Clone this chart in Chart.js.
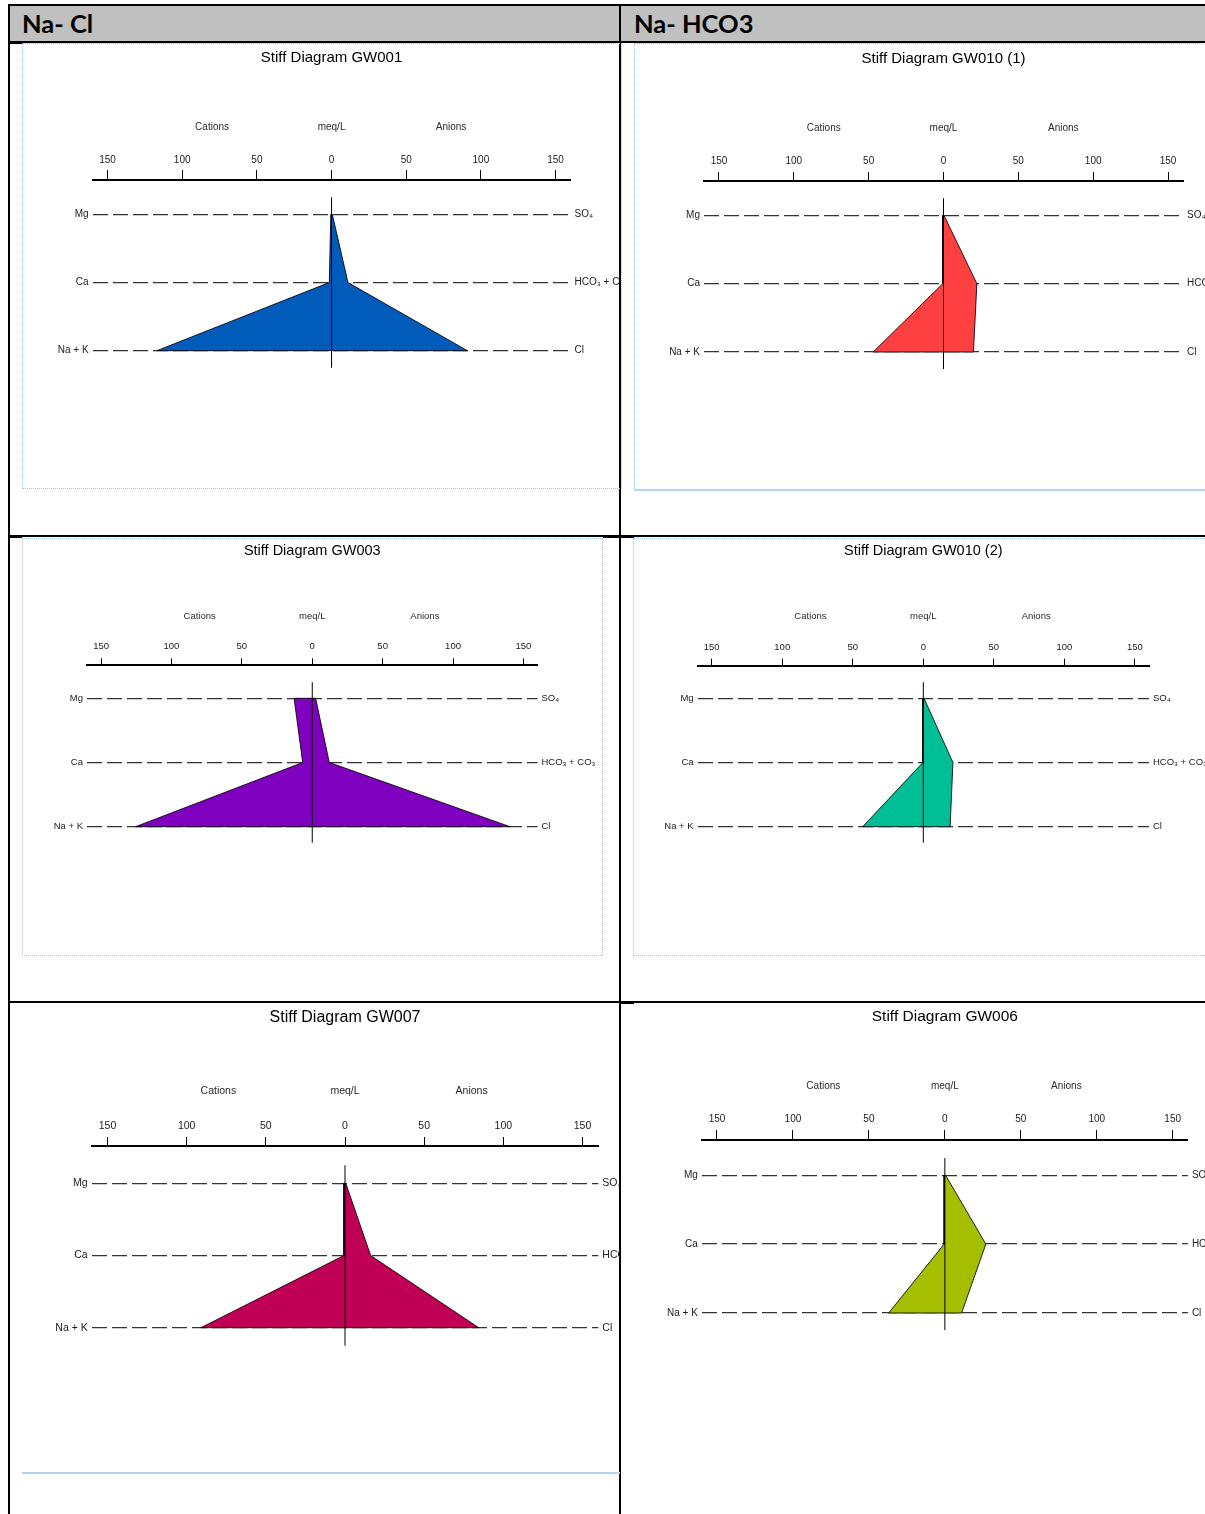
<!DOCTYPE html>
<html>
<head>
<meta charset="utf-8">
<title>Stiff Diagrams</title>
<script src="https://cdn.jsdelivr.net/npm/chart.js@4.4.0/dist/chart.umd.min.js"></script>
<style>
  html, body { margin: 0; padding: 0; background: #fff; }
  body { width: 1205px; height: 1514px; position: relative; overflow: hidden; font-family: "Liberation Sans", Arial, sans-serif; }
  .blk { position: absolute; background: #000; }
  .hdr { position: absolute; left: 10px; top: 6px; width: 1195px; height: 35px; background: #c0c0c0; }
  .hdr-text { position: absolute; top: 6px; height: 35px; line-height: 35px; font-family: Lato, "Open Sans", sans-serif; font-weight: bold; font-size: 25.5px; color: #000; white-space: nowrap; }
  .frame { position: absolute; box-sizing: border-box; }
  .panel { position: absolute; }
</style>
</head>
<body>
<div class="hdr"></div>
<div id="hdrLeft" class="hdr-text" style="left:22px;"></div>
<div id="hdrRight" class="hdr-text" style="left:634px;"></div>

<!-- table rules -->
<div class="blk" style="left:8px;top:4px;width:1197px;height:2px;"></div>
<div class="blk" style="left:8px;top:41px;width:1197px;height:2px;"></div>
<div class="blk" style="left:8px;top:4px;width:2px;height:1510px;"></div>
<div class="blk" style="left:619px;top:4px;width:2px;height:1510px;"></div>
<div class="blk" style="left:8px;top:535px;width:1197px;height:2px;"></div>
<div class="blk" style="left:8px;top:1001px;width:1197px;height:2px;"></div>
<div class="blk" style="left:10px;top:43px;width:12px;height:1px;"></div>
<div class="blk" style="left:10px;top:537px;width:12px;height:1px;"></div>
<div class="blk" style="left:603px;top:537px;width:31px;height:1px;"></div>
<div class="blk" style="left:621px;top:1003px;width:13px;height:1px;"></div>

<!-- chart frames -->
<div class="frame" style="left:22px;top:43px;width:600px;height:446px;border:1px dotted #9fc6ea;"></div>
<div class="frame" style="left:634px;top:43px;width:600px;height:448px;border:1px dotted #9fc6ea;border-bottom:2px solid #b3d3f1;"></div>
<div class="frame" style="left:22px;top:538px;width:581px;height:418px;border:1px dotted #9fc6ea;"></div>
<div class="frame" style="left:633px;top:538px;width:600px;height:418px;border:1px dotted #9fc6ea;"></div>
<div class="frame" style="left:22px;top:1472px;width:598px;height:2px;background:#b3d3f1;"></div>

<script>
// Group headers and diagram titles
const groupHeaders = ['Na- Cl', 'Na- HCO3'];
const diagramTitles = [
  'Stiff Diagram GW001',
  'Stiff Diagram GW010 (1)',
  'Stiff Diagram GW003',
  'Stiff Diagram GW010 (2)',
  'Stiff Diagram GW007',
  'Stiff Diagram GW006'
];

// Ion rows (bottom to top) and axis labelling
const cationLabels = ['Na + K', 'Ca', 'Mg'];
const anionLabels = ['Cl', 'HCO\u2083 + CO\u2083', 'SO\u2084'];
const axisTicks = [-150, -100, -50, 0, 50, 100, 150];
const sideLabels = ['Cations', 'meq/L', 'Anions'];

// Concentrations in meq/L, one entry per diagram (same order as diagramTitles)
const naK  = [117, 47, 125.5, 43, 91, 37];
const ca   = [1.5, 0.5, 6.8, 0.3, 0.7, 0.5];
const mg   = [0.5, 0.5, 12.9, 0.3, 0.7, 0.5];
const cl   = [91, 20, 140.5, 19, 84.5, 11];
const hco3 = [11, 22.3, 12.1, 21, 16.2, 27];
const so4  = [0.5, 0.3, 2.4, 0.5, 0.5, 0.5];

// Styling
const fillColors = ['#005BBB', '#FF4040', '#8000BF', '#00BF96', '#BF0054', '#A5BF00'];

// Page placement of each diagram: canvas box [left, top, right, bottom],
// axis line [left, right, y], row lines for Mg / Na+K, title & caption rows, type sizes
const panels = [
  { box: [22, 43, 620, 488],    axis: [92.6, 570.5, 180],  mgY: 214.3,  naY: 350.7,  titleY: 58,   capY: 127,  titleSize: 15,   font: 10,  tickLen: 10, tickPad: 4 },
  { box: [634, 43, 1205, 490],  axis: [704, 1183, 181],    mgY: 215.3,  naY: 352,    titleY: 59,   capY: 128,  titleSize: 15,   font: 10,  tickLen: 9,  tickPad: 5 },
  { box: [22, 538, 602, 955],   axis: [87, 537.5, 665.3],  mgY: 698.3,  naY: 826.7,  titleY: 551,  capY: 616,  titleSize: 14.5, font: 9.5, tickLen: 7,  tickPad: 6 },
  { box: [633, 538, 1205, 955], axis: [697.6, 1149, 665.7], mgY: 698.3, naY: 826.7,  titleY: 551,  capY: 616,  titleSize: 14.5, font: 9.5, tickLen: 7,  tickPad: 6 },
  { box: [22, 1004, 620, 1470], axis: [91.7, 598.3, 1146], mgY: 1183.3, naY: 1327.7, titleY: 1018, capY: 1091, titleSize: 16,   font: 10.5, tickLen: 9, tickPad: 5 },
  { box: [634, 1004, 1205, 1470], axis: [701.8, 1187.9, 1140], mgY: 1175.3, naY: 1313, titleY: 1017, capY: 1086, titleSize: 15.5, font: 10, tickLen: 10, tickPad: 5, soft: true }
];
const sideLabelAnchors = [-80, 0, 80];

document.getElementById('hdrLeft').textContent = groupHeaders[0];
document.getElementById('hdrRight').textContent = groupHeaders[1];

const FONT = '"Liberation Sans", Arial, sans-serif';

// Draws the "Cations / meq/L / Anions" caption row above the meq/L axis
const sideLabelPlugin = {
  id: 'sideLabels',
  afterDraw(chart, args, opts) {
    const { ctx } = chart;
    const x = chart.scales.x;
    ctx.save();
    ctx.font = opts.size + 'px ' + FONT;
    ctx.fillStyle = '#2b2b2b';
    ctx.textAlign = 'center';
    ctx.textBaseline = 'middle';
    sideLabelAnchors.forEach((v, k) => ctx.fillText(sideLabels[k], x.getPixelForValue(v), opts.y));
    ctx.restore();
  }
};

panels.forEach((p, i) => {
  const [bl, bt, br, bb] = p.box;
  const w = br - bl, h = bb - bt;
  const wrap = document.createElement('div');
  wrap.className = 'panel';
  wrap.style.left = bl + 'px';
  wrap.style.top = bt + 'px';
  wrap.style.width = w + 'px';
  wrap.style.height = h + 'px';
  if (p.soft) wrap.style.filter = 'blur(0.55px)';
  const cv = document.createElement('canvas');
  cv.width = w; cv.height = h;
  cv.style.width = w + 'px'; cv.style.height = h + 'px';
  wrap.appendChild(cv);
  document.body.appendChild(wrap);

  const step = (p.naY - p.mgY) / 2;          // pixels between ion rows
  const yMin = -0.5;
  const yMax = 2 + (p.mgY - p.axis[2]) / step;
  const chartBottom = p.naY + 0.5 * step;
  const titleLH = p.titleSize * 1.2;
  const titlePadTop = p.titleY - bt - titleLH / 2;
  const titleH = titlePadTop + titleLH;

  // Stiff polygon: cations to the left (negative), anions to the right
  const shape = [
    { x: -mg[i], y: 2 },
    { x: -ca[i], y: 1 },
    { x: -naK[i], y: 0 },
    { x: cl[i], y: 0 },
    { x: hco3[i], y: 1 },
    { x: so4[i], y: 2 },
    { x: -mg[i], y: 2 }
  ];

  const tickFont = { family: FONT, size: p.font };
  const rowTicks = sc => { sc.ticks = [0, 1, 2].map(v => ({ value: v })); };

  new Chart(cv, {
    type: 'line',
    data: {
      datasets: [
        {
          data: [{ x: 0, y: -0.25 }, { x: 0, y: 2.25 }],
          borderColor: '#000', borderWidth: 1, pointRadius: 0, fill: false
        },
        {
          data: shape,
          borderColor: 'rgba(0,0,0,0.85)', borderWidth: 1,
          backgroundColor: fillColors[i], fill: 'shape',
          pointRadius: 0, tension: 0, borderJoinStyle: 'miter'
        }
      ]
    },
    options: {
      responsive: false,
      maintainAspectRatio: false,
      devicePixelRatio: 1,
      animation: false,
      events: [],
      layout: { padding: { left: 0, right: 0, top: 0, bottom: bb - chartBottom } },
      plugins: {
        legend: { display: false },
        tooltip: { enabled: false },
        title: {
          display: true,
          fullSize: false,
          text: diagramTitles[i],
          color: '#000',
          font: { family: FONT, size: p.titleSize, weight: 'normal', lineHeight: 1.2 },
          padding: { top: titlePadTop, bottom: 0 }
        },
        sideLabels: { y: p.capY - bt, size: p.font }
      },
      scales: {
        x: {
          type: 'linear', position: 'top', min: -160, max: 160,
          afterBuildTicks: sc => { sc.ticks = axisTicks.map(v => ({ value: v })); },
          afterFit: sc => { sc.height = p.axis[2] - bt - titleH; },
          ticks: { callback: v => String(Math.abs(v)), font: tickFont, color: '#222', padding: p.tickPad, maxRotation: 0, autoSkip: false },
          grid: { drawOnChartArea: false, drawTicks: true, tickLength: p.tickLen, tickColor: '#000', tickWidth: 1 },
          border: { display: true, color: '#000', width: 2 }
        },
        y: {
          type: 'linear', position: 'left', min: yMin, max: yMax,
          afterBuildTicks: rowTicks,
          afterFit: sc => { sc.width = p.axis[0] - bl; },
          ticks: { callback: v => cationLabels[v], font: tickFont, color: '#222', padding: 4, autoSkip: false },
          grid: { drawTicks: false, color: '#333', lineWidth: 1.3 },
          border: { display: false, dash: [15, 5] }
        },
        y2: {
          type: 'linear', position: 'right', min: yMin, max: yMax,
          afterBuildTicks: rowTicks,
          afterFit: sc => { sc.width = br - p.axis[1]; },
          ticks: { callback: v => anionLabels[v], font: tickFont, color: '#222', padding: 4, autoSkip: false },
          grid: { display: false, drawTicks: false },
          border: { display: false }
        }
      }
    },
    plugins: [sideLabelPlugin]
  });
});
</script>
</body>
</html>
